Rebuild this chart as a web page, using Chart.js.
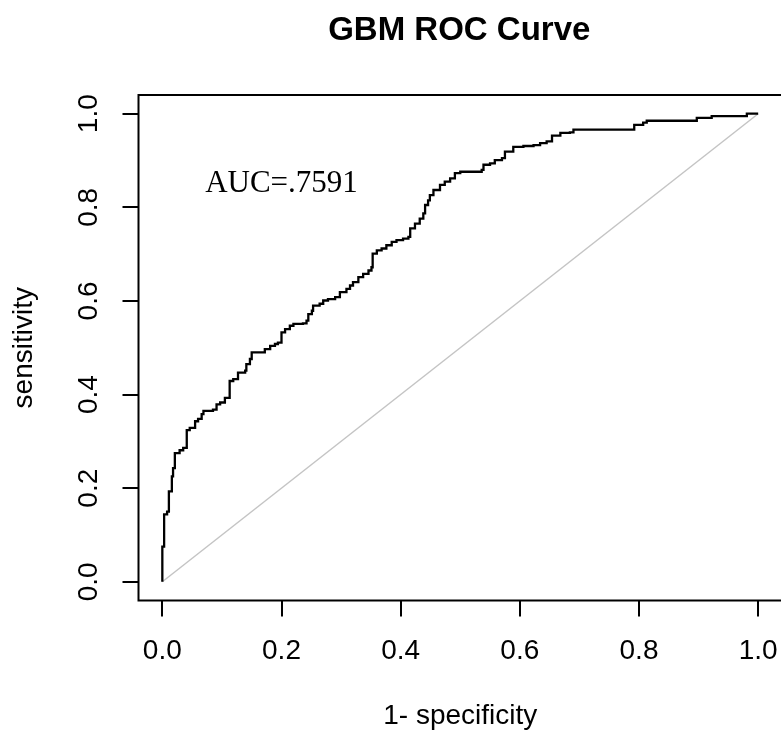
<!DOCTYPE html>
<html>
<head>
<meta charset="utf-8">
<script src="https://cdn.jsdelivr.net/npm/chart.js@4.4.1/dist/chart.umd.min.js"></script>
<style>
  html, body { margin: 0; padding: 0; background: #fff; overflow: hidden; }
  #roc { display: block; }
</style>
</head>
<body>
<canvas id="roc" width="784" height="733"></canvas>
<script>
// ROC points: 1 - specificity / sensitivity
const fpr = [0, 0.000, 0.003, 0.008, 0.011, 0.016, 0.018, 0.021, 0.029, 0.035,
  0.041, 0.046, 0.055, 0.060, 0.066, 0.069, 0.085, 0.091, 0.097, 0.105,
  0.113, 0.119, 0.127, 0.139, 0.141, 0.147, 0.150, 0.164, 0.172, 0.181,
  0.189, 0.194, 0.200, 0.206, 0.214, 0.220, 0.236, 0.242, 0.245, 0.251,
  0.253, 0.264, 0.270, 0.278, 0.290, 0.298, 0.309, 0.315, 0.320, 0.329,
  0.337, 0.346, 0.351, 0.353, 0.360, 0.368, 0.376, 0.385, 0.393, 0.404,
  0.413, 0.416, 0.424, 0.432, 0.438, 0.441, 0.446, 0.449, 0.455, 0.466,
  0.474, 0.483, 0.491, 0.500, 0.516, 0.536, 0.539, 0.550, 0.558, 0.570,
  0.575, 0.589, 0.606, 0.623, 0.634, 0.645, 0.654, 0.668, 0.684, 0.690,
  0.785, 0.792, 0.807, 0.813, 0.891, 0.897, 0.922, 0.975, 0.981, 1.000]
const tpr = [0, 0.075, 0.144, 0.150, 0.193, 0.225, 0.243, 0.275, 0.281, 0.286,
  0.324, 0.329, 0.343, 0.348, 0.358, 0.365, 0.368, 0.379, 0.383, 0.393,
  0.429, 0.433, 0.447, 0.451, 0.465, 0.476, 0.490, 0.490, 0.497, 0.504,
  0.508, 0.511, 0.533, 0.540, 0.547, 0.551, 0.552, 0.558, 0.572, 0.579,
  0.590, 0.594, 0.601, 0.604, 0.608, 0.619, 0.626, 0.633, 0.640, 0.651,
  0.658, 0.665, 0.672, 0.701, 0.708, 0.712, 0.719, 0.726, 0.730, 0.733,
  0.737, 0.755, 0.765, 0.776, 0.787, 0.805, 0.815, 0.826, 0.837, 0.848,
  0.855, 0.862, 0.873, 0.876, 0.876, 0.880, 0.891, 0.894, 0.901, 0.905,
  0.919, 0.929, 0.931, 0.933, 0.937, 0.941, 0.953, 0.959, 0.960, 0.966,
  0.966, 0.976, 0.981, 0.985, 0.985, 0.991, 0.995, 0.995, 1.000, 1.000]

// chance line
const diagX = [0, 1]
const diagY = [0, 1]

const tickValues = [0, 0.2, 0.4, 0.6, 0.8, 1.0]
const chartTitle = "GBM ROC Curve"
const xTitle = "1- specificity"
const yTitle = "sensitivity"
const aucLabel = "AUC=.7591"
const aucAt = [0.2, 0.85]

const sans = '"Liberation Sans", Arial, sans-serif'

function toPoints(xs, ys) {
    let pts = []
    for (let i = 0; i < xs.length; i++) {
        pts.push({x: xs[i], y: ys[i]})
    }
    return pts
}

// box, title and the AUC note, like base R plot()
const rFrame = {
    id: 'rFrame',
    afterDraw(chart) {
        const {ctx, chartArea, scales} = chart
        ctx.save()
        ctx.strokeStyle = '#000'
        ctx.lineWidth = 2
        ctx.strokeRect(chartArea.left, chartArea.top, chartArea.right - chartArea.left, chartArea.bottom - chartArea.top)

        ctx.fillStyle = '#000'
        ctx.textAlign = 'center'
        ctx.textBaseline = 'alphabetic'
        ctx.font = 'bold 33px ' + sans
        ctx.fillText(chartTitle, (chartArea.left + chartArea.right) / 2 - 1, 39.5)

        ctx.font = '31px "Liberation Serif", "Times New Roman", serif'
        ctx.textBaseline = 'middle'
        ctx.fillText(aucLabel, scales.x.getPixelForValue(aucAt[0]), scales.y.getPixelForValue(aucAt[1]))
        ctx.restore()
    }
}

function axisOptions(title, isY) {
    return {
        type: 'linear',
        min: -0.04,
        max: 1.04,
        afterBuildTicks: (scale) => { scale.ticks = tickValues.map(v => ({value: v})) },
        afterFit: (scale) => {
            // R keeps the plot region fixed, no room reserved for label overhang
            scale.paddingLeft = 0
            scale.paddingRight = 0
            scale.paddingTop = 0
            scale.paddingBottom = 0
            if (isY) scale.width = 138.5
            else scale.height = 132.5
        },
        grid: {
            display: true,
            drawOnChartArea: false,
            drawTicks: true,
            tickLength: 16,
            color: '#000',
            lineWidth: 2
        },
        border: {display: false},
        ticks: {
            autoSkip: false,
            color: '#000',
            font: {family: sans, size: 28},
            padding: isY ? 14 : 18,
            minRotation: isY ? 90 : 0,
            maxRotation: isY ? 90 : 0,
            crossAlign: isY ? 'center' : 'near',
            callback: (v) => Number(v).toFixed(1)
        },
        title: {
            display: true,
            text: title,
            color: '#000',
            font: {family: sans, size: 28},
            padding: isY ? {top: 7, bottom: 0} : {top: 0, bottom: 0}
        }
    }
}

const config = {
    type: 'scatter',
    data: {
        datasets: [
            {
                label: 'roc',
                data: toPoints(fpr, tpr),
                showLine: true,
                stepped: true,
                borderColor: '#000',
                borderWidth: 2.3,
                pointRadius: 0,
                fill: false
            },
            {
                label: 'chance',
                data: toPoints(diagX, diagY),
                showLine: true,
                borderColor: '#c4c4c4',
                borderWidth: 1.5,
                pointRadius: 0,
                fill: false
            }
        ]
    },
    options: {
        responsive: false,
        animation: false,
        devicePixelRatio: 1,
        layout: {padding: {top: 95, right: 2, bottom: 0, left: 0}},
        plugins: {
            legend: {display: false},
            tooltip: {enabled: false}
        },
        scales: {
            x: axisOptions(xTitle, false),
            y: axisOptions(yTitle, true)
        }
    },
    plugins: [rFrame]
}

new Chart(document.getElementById('roc'), config)
</script>
</body>
</html>
